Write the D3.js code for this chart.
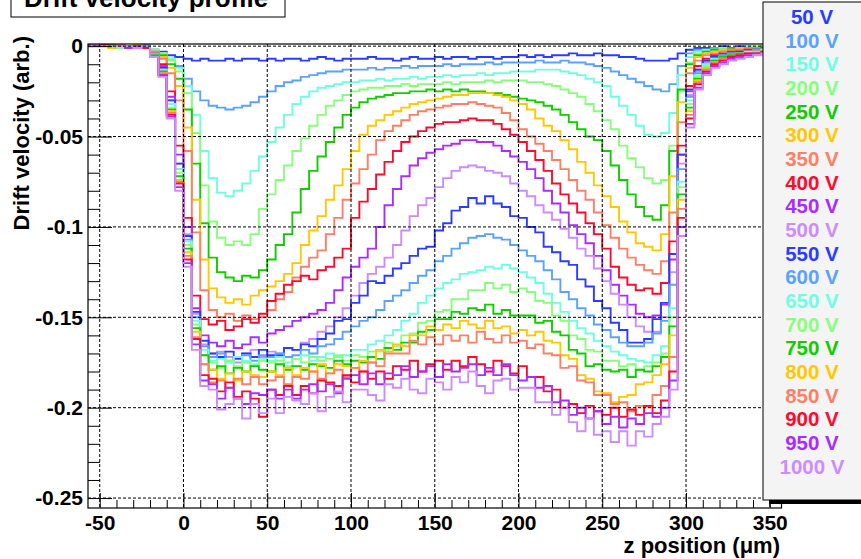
<!DOCTYPE html>
<html><head><meta charset="utf-8">
<script src="https://cdn.jsdelivr.net/npm/d3@7"></script>
<style>
body{margin:0;background:#fff}
svg{display:block}
text{font-family:"Liberation Sans",Arial,Helvetica,sans-serif;font-weight:bold}
</style>
</head><body>
<svg id="c" width="861" height="559"></svg>
<script>
// bin left edges (z, µm) and last right edge
const zEdges = [-60,-55,-50,-45,-40,-35,-30,-25,-20,-15,-10,-5,0,5,10,15,20,25,30,35,40,45,50,55,60,65,70,75,80,85,90,95,100,105,110,115,120,125,130,135,140,145,150,155,160,165,170,175,180,185,190,195,200,205,210,215,220,225,230,235,240,245,250,255,260,265,270,275,280,285,290,295,300,305,310,315,320,325,330,335,340,345,350,355,360];

const s50 = [0.000,0.001,0.000,0.000,-0.001,0.000,0.000,-0.001,
-0.002,-0.003,-0.005,-0.006,-0.007,
-0.008,-0.007,-0.008,-0.008,-0.007,-0.008,-0.007,-0.007,-0.008,-0.007,
-0.008,-0.007,-0.007,-0.008,-0.007,-0.006,-0.007,-0.008,-0.007,-0.007,
-0.007,-0.006,-0.007,-0.007,-0.008,-0.007,-0.006,-0.007,-0.007,-0.006,
-0.007,-0.006,-0.006,-0.007,-0.006,-0.006,-0.007,-0.006,-0.006,-0.005,
-0.006,-0.005,-0.006,-0.005,-0.005,-0.004,-0.005,-0.005,-0.004,-0.005,
-0.005,-0.006,-0.006,-0.007,-0.008,-0.008,-0.008,-0.007,-0.004,
-0.002,-0.001,-0.001,-0.001,0.000,-0.001,0.000,0.000,-0.001,0.000,0.000,0.000];
const s100 = [0.000,0.000,0.001,0.000,-0.001,0.000,0.000,-0.001,
-0.002,-0.004,-0.007,-0.011,-0.018,
-0.025,-0.030,-0.033,-0.034,-0.035,-0.034,-0.033,-0.031,-0.028,-0.025,
-0.022,-0.020,-0.019,-0.017,-0.016,-0.015,-0.014,-0.014,-0.013,-0.013,
-0.013,-0.012,-0.013,-0.012,-0.012,-0.011,-0.012,-0.011,-0.011,-0.011,
-0.010,-0.011,-0.010,-0.010,-0.010,-0.009,-0.010,-0.009,-0.009,-0.009,
-0.009,-0.008,-0.009,-0.009,-0.008,-0.009,-0.009,-0.010,-0.011,-0.012,
-0.014,-0.016,-0.018,-0.020,-0.022,-0.024,-0.025,-0.021,-0.011,
-0.004,-0.002,-0.002,-0.001,-0.001,-0.001,-0.001,0.000,-0.001,0.000,-0.001,0.000];
const s150 = [0.000,0.001,0.000,0.000,0.000,-0.001,0.000,-0.001,
-0.002,-0.004,-0.007,-0.012,-0.022,
-0.038,-0.058,-0.073,-0.081,-0.083,-0.080,-0.076,-0.069,-0.061,-0.053,
-0.045,-0.038,-0.032,-0.028,-0.025,-0.023,-0.022,-0.021,-0.020,-0.020,
-0.019,-0.019,-0.018,-0.019,-0.018,-0.018,-0.017,-0.018,-0.017,-0.017,
-0.016,-0.017,-0.016,-0.016,-0.015,-0.016,-0.015,-0.015,-0.014,-0.014,
-0.014,-0.013,-0.013,-0.013,-0.014,-0.015,-0.016,-0.018,-0.020,-0.022,
-0.028,-0.033,-0.038,-0.044,-0.049,-0.050,-0.048,-0.037,-0.016,
-0.006,-0.003,-0.002,-0.002,-0.001,-0.001,-0.001,0.000,-0.001,0.000,0.000,0.000];
const s200 = [0.000,0.000,0.001,0.000,0.000,0.000,-0.001,0.000,
-0.002,-0.004,-0.008,-0.014,-0.026,
-0.048,-0.077,-0.097,-0.106,-0.110,-0.108,-0.110,-0.104,-0.090,-0.082,
-0.074,-0.066,-0.058,-0.051,-0.044,-0.038,-0.033,-0.030,-0.027,-0.025,
-0.024,-0.023,-0.023,-0.022,-0.022,-0.021,-0.022,-0.021,-0.021,-0.021,
-0.020,-0.021,-0.020,-0.020,-0.020,-0.019,-0.020,-0.019,-0.019,-0.019,
-0.020,-0.020,-0.021,-0.022,-0.024,-0.026,-0.028,-0.032,-0.036,-0.041,
-0.046,-0.055,-0.062,-0.067,-0.073,-0.076,-0.074,-0.055,-0.025,
-0.009,-0.004,-0.003,-0.002,-0.002,-0.001,-0.001,-0.001,0.000,-0.001,0.000,0.000];
const s250 = [0.000,0.001,0.000,0.000,-0.001,0.000,0.000,0.000,
-0.003,-0.005,-0.010,-0.018,-0.035,
-0.065,-0.098,-0.117,-0.125,-0.128,-0.130,-0.127,-0.128,-0.124,-0.118,
-0.110,-0.104,-0.092,-0.079,-0.069,-0.061,-0.053,-0.045,-0.038,-0.034,
-0.031,-0.029,-0.028,-0.027,-0.026,-0.026,-0.025,-0.025,-0.024,-0.025,
-0.024,-0.025,-0.024,-0.025,-0.025,-0.026,-0.026,-0.027,-0.028,-0.029,
-0.030,-0.031,-0.033,-0.035,-0.038,-0.042,-0.046,-0.050,-0.052,-0.058,
-0.066,-0.074,-0.082,-0.089,-0.094,-0.096,-0.088,-0.058,-0.024,
-0.010,-0.005,-0.003,-0.002,-0.002,-0.001,-0.001,-0.001,-0.001,0.000,-0.001,0.000];
const s300 = [0.001,0.000,0.000,-0.001,0.000,0.000,0.000,-0.001,
-0.003,-0.006,-0.012,-0.022,-0.045,
-0.085,-0.118,-0.134,-0.139,-0.142,-0.140,-0.143,-0.138,-0.135,-0.133,
-0.130,-0.126,-0.120,-0.110,-0.102,-0.094,-0.085,-0.077,-0.068,-0.058,
-0.049,-0.044,-0.041,-0.038,-0.036,-0.034,-0.032,-0.031,-0.030,-0.029,
-0.028,-0.027,-0.027,-0.026,-0.026,-0.026,-0.027,-0.028,-0.030,-0.032,
-0.035,-0.040,-0.044,-0.047,-0.052,-0.057,-0.064,-0.070,-0.077,-0.083,
-0.089,-0.097,-0.103,-0.109,-0.111,-0.113,-0.104,-0.072,-0.031,
-0.012,-0.006,-0.004,-0.003,-0.002,-0.002,-0.001,-0.001,-0.001,-0.001,0.000,0.000];
const s350 = [0.000,0.000,0.000,0.001,0.000,-0.001,0.000,0.000,
-0.003,-0.007,-0.015,-0.030,-0.058,
-0.103,-0.135,-0.146,-0.150,-0.148,-0.152,-0.149,-0.151,-0.150,-0.146,
-0.140,-0.136,-0.128,-0.122,-0.117,-0.113,-0.104,-0.095,-0.085,-0.076,
-0.068,-0.060,-0.052,-0.047,-0.044,-0.041,-0.038,-0.036,-0.035,-0.034,
-0.033,-0.032,-0.032,-0.031,-0.032,-0.033,-0.034,-0.037,-0.041,-0.046,
-0.050,-0.054,-0.058,-0.063,-0.068,-0.074,-0.080,-0.085,-0.092,-0.099,
-0.106,-0.112,-0.117,-0.121,-0.124,-0.126,-0.119,-0.092,-0.042,
-0.015,-0.008,-0.005,-0.004,-0.003,-0.002,-0.002,-0.001,-0.001,-0.001,-0.001,0.000];
const s400 = [0.000,0.001,0.000,0.000,0.000,0.000,-0.001,0.000,
-0.004,-0.010,-0.025,-0.055,-0.095,
-0.138,-0.151,-0.154,-0.152,-0.157,-0.155,-0.151,-0.153,-0.148,-0.141,
-0.137,-0.132,-0.130,-0.127,-0.129,-0.124,-0.122,-0.117,-0.112,-0.095,
-0.086,-0.079,-0.071,-0.064,-0.058,-0.053,-0.050,-0.047,-0.045,-0.043,
-0.042,-0.042,-0.041,-0.040,-0.041,-0.041,-0.043,-0.046,-0.049,-0.053,
-0.058,-0.063,-0.069,-0.076,-0.082,-0.087,-0.092,-0.098,-0.104,-0.112,
-0.122,-0.128,-0.132,-0.135,-0.134,-0.137,-0.131,-0.108,-0.055,
-0.022,-0.011,-0.007,-0.005,-0.004,-0.003,-0.003,-0.002,-0.002,-0.001,-0.001,-0.001];
const s450 = [0.000,0.000,0.001,0.000,-0.001,0.000,0.000,0.000,
-0.004,-0.011,-0.028,-0.060,-0.100,
-0.145,-0.160,-0.164,-0.166,-0.163,-0.167,-0.165,-0.161,-0.164,-0.159,
-0.157,-0.155,-0.152,-0.150,-0.148,-0.146,-0.142,-0.135,-0.128,-0.122,
-0.117,-0.112,-0.100,-0.088,-0.079,-0.072,-0.066,-0.062,-0.059,-0.057,
-0.055,-0.054,-0.052,-0.052,-0.053,-0.053,-0.055,-0.058,-0.061,-0.064,
-0.068,-0.073,-0.080,-0.087,-0.092,-0.099,-0.104,-0.109,-0.116,-0.124,
-0.132,-0.138,-0.143,-0.148,-0.150,-0.149,-0.143,-0.118,-0.060,
-0.025,-0.013,-0.008,-0.006,-0.005,-0.004,-0.003,-0.003,-0.002,-0.002,-0.001,-0.001];
const s500 = [0.001,0.000,0.000,0.000,0.000,-0.001,0.000,0.000,
-0.004,-0.012,-0.030,-0.065,-0.104,
-0.148,-0.165,-0.170,-0.169,-0.172,-0.175,-0.170,-0.168,-0.172,-0.169,
-0.170,-0.167,-0.168,-0.164,-0.162,-0.158,-0.155,-0.150,-0.145,-0.138,
-0.131,-0.126,-0.122,-0.117,-0.110,-0.102,-0.094,-0.088,-0.084,-0.078,
-0.073,-0.069,-0.067,-0.066,-0.067,-0.069,-0.070,-0.072,-0.076,-0.080,
-0.083,-0.088,-0.092,-0.096,-0.101,-0.106,-0.112,-0.116,-0.123,-0.130,
-0.137,-0.143,-0.150,-0.155,-0.158,-0.158,-0.150,-0.125,-0.065,
-0.027,-0.014,-0.009,-0.007,-0.005,-0.004,-0.004,-0.003,-0.002,-0.002,-0.002,-0.001];
const s550 = [0.000,0.000,0.000,0.001,0.000,0.000,-0.001,0.000,
-0.005,-0.012,-0.030,-0.065,-0.105,
-0.147,-0.163,-0.170,-0.172,-0.169,-0.173,-0.170,-0.172,-0.168,-0.171,
-0.171,-0.167,-0.168,-0.165,-0.166,-0.162,-0.159,-0.152,-0.151,-0.142,
-0.138,-0.130,-0.131,-0.127,-0.123,-0.120,-0.116,-0.112,-0.111,-0.102,
-0.098,-0.091,-0.089,-0.084,-0.087,-0.083,-0.087,-0.089,-0.094,-0.095,
-0.100,-0.103,-0.111,-0.114,-0.119,-0.121,-0.129,-0.133,-0.141,-0.145,
-0.153,-0.157,-0.164,-0.164,-0.162,-0.151,-0.142,-0.115,-0.060,
-0.024,-0.013,-0.008,-0.006,-0.005,-0.004,-0.003,-0.003,-0.002,-0.002,-0.001,-0.001];
const s600 = [0.000,0.001,0.000,0.000,0.000,-0.001,0.000,0.001,
-0.005,-0.013,-0.032,-0.068,-0.107,
-0.150,-0.166,-0.172,-0.170,-0.174,-0.172,-0.171,-0.174,-0.171,-0.172,
-0.170,-0.172,-0.171,-0.168,-0.170,-0.166,-0.165,-0.162,-0.158,-0.155,
-0.152,-0.150,-0.146,-0.141,-0.138,-0.135,-0.131,-0.127,-0.124,-0.119,
-0.116,-0.112,-0.109,-0.106,-0.105,-0.104,-0.106,-0.107,-0.110,-0.113,
-0.116,-0.119,-0.124,-0.129,-0.136,-0.140,-0.145,-0.149,-0.154,-0.157,
-0.161,-0.164,-0.166,-0.166,-0.164,-0.159,-0.152,-0.132,-0.068,
-0.028,-0.015,-0.010,-0.007,-0.005,-0.004,-0.004,-0.003,-0.002,-0.002,-0.002,-0.001];
const s650 = [0.000,0.000,0.001,0.000,0.000,0.000,0.000,-0.001,
-0.005,-0.013,-0.032,-0.068,-0.108,
-0.152,-0.168,-0.174,-0.173,-0.175,-0.172,-0.174,-0.176,-0.173,-0.174,
-0.172,-0.175,-0.173,-0.171,-0.174,-0.172,-0.170,-0.172,-0.171,-0.168,
-0.168,-0.165,-0.163,-0.160,-0.157,-0.152,-0.148,-0.142,-0.138,-0.134,
-0.131,-0.129,-0.126,-0.125,-0.124,-0.122,-0.123,-0.121,-0.123,-0.125,
-0.128,-0.131,-0.137,-0.142,-0.147,-0.152,-0.156,-0.159,-0.163,-0.166,
-0.169,-0.171,-0.173,-0.174,-0.175,-0.171,-0.166,-0.145,-0.075,
-0.030,-0.016,-0.010,-0.007,-0.006,-0.005,-0.004,-0.003,-0.003,-0.002,-0.002,-0.001];
const s700 = [0.001,0.000,0.000,0.000,-0.001,0.000,0.000,0.000,
-0.005,-0.014,-0.034,-0.070,-0.110,
-0.154,-0.171,-0.175,-0.178,-0.174,-0.177,-0.175,-0.177,-0.174,-0.175,
-0.174,-0.177,-0.173,-0.175,-0.172,-0.174,-0.173,-0.171,-0.174,-0.171,
-0.172,-0.169,-0.169,-0.164,-0.166,-0.160,-0.159,-0.153,-0.152,-0.147,
-0.146,-0.140,-0.140,-0.135,-0.135,-0.131,-0.134,-0.132,-0.136,-0.134,
-0.136,-0.141,-0.142,-0.149,-0.152,-0.160,-0.162,-0.168,-0.169,-0.174,
-0.174,-0.177,-0.176,-0.179,-0.177,-0.175,-0.170,-0.150,-0.078,
-0.032,-0.017,-0.011,-0.008,-0.006,-0.005,-0.004,-0.004,-0.003,-0.002,-0.002,-0.002];
const s750 = [0.000,0.000,0.000,0.001,0.000,0.000,-0.001,0.000,
-0.005,-0.014,-0.035,-0.072,-0.112,
-0.156,-0.171,-0.179,-0.177,-0.181,-0.178,-0.180,-0.177,-0.179,-0.180,
-0.176,-0.179,-0.177,-0.179,-0.176,-0.177,-0.178,-0.174,-0.176,-0.174,
-0.175,-0.172,-0.173,-0.167,-0.168,-0.164,-0.164,-0.158,-0.157,-0.151,
-0.151,-0.147,-0.148,-0.145,-0.146,-0.143,-0.148,-0.146,-0.149,-0.149,
-0.149,-0.153,-0.152,-0.158,-0.160,-0.168,-0.170,-0.177,-0.176,-0.179,
-0.180,-0.179,-0.183,-0.179,-0.180,-0.177,-0.172,-0.155,-0.082,
-0.034,-0.018,-0.012,-0.008,-0.006,-0.005,-0.004,-0.004,-0.003,-0.003,-0.002,-0.002];
const s800 = [0.000,0.001,0.000,0.000,0.000,0.000,0.001,-0.001,
-0.006,-0.015,-0.036,-0.074,-0.114,
-0.158,-0.176,-0.179,-0.184,-0.181,-0.185,-0.180,-0.182,-0.183,-0.180,
-0.182,-0.178,-0.182,-0.178,-0.180,-0.176,-0.181,-0.176,-0.177,-0.178,
-0.174,-0.175,-0.168,-0.169,-0.165,-0.166,-0.160,-0.160,-0.155,-0.157,
-0.154,-0.156,-0.152,-0.154,-0.156,-0.152,-0.156,-0.155,-0.159,-0.157,
-0.160,-0.158,-0.163,-0.164,-0.171,-0.173,-0.182,-0.184,-0.191,-0.192,
-0.197,-0.194,-0.193,-0.187,-0.186,-0.182,-0.176,-0.160,-0.085,
-0.036,-0.019,-0.012,-0.009,-0.007,-0.006,-0.005,-0.004,-0.003,-0.003,-0.002,-0.002];
const s850 = [0.000,0.000,0.000,0.000,0.001,0.000,0.000,0.000,
-0.006,-0.015,-0.037,-0.075,-0.116,
-0.161,-0.176,-0.186,-0.185,-0.189,-0.184,-0.187,-0.183,-0.187,-0.185,
-0.183,-0.187,-0.183,-0.184,-0.180,-0.184,-0.181,-0.179,-0.183,-0.178,
-0.180,-0.175,-0.177,-0.170,-0.170,-0.170,-0.163,-0.165,-0.161,-0.165,
-0.160,-0.163,-0.160,-0.164,-0.158,-0.162,-0.164,-0.160,-0.164,-0.163,
-0.167,-0.165,-0.170,-0.171,-0.178,-0.177,-0.185,-0.186,-0.193,-0.193,
-0.198,-0.197,-0.202,-0.199,-0.199,-0.193,-0.188,-0.172,-0.090,
-0.038,-0.020,-0.013,-0.009,-0.007,-0.006,-0.005,-0.004,-0.004,-0.003,-0.002,-0.002];
const s900 = [0.000,0.000,0.001,0.000,0.000,0.000,0.000,-0.001,
-0.006,-0.016,-0.038,-0.076,-0.118,
-0.162,-0.182,-0.184,-0.191,-0.186,-0.194,-0.191,-0.195,-0.205,-0.190,
-0.193,-0.188,-0.193,-0.188,-0.192,-0.185,-0.186,-0.188,-0.182,-0.186,
-0.180,-0.184,-0.180,-0.184,-0.177,-0.179,-0.174,-0.180,-0.176,-0.174,
-0.179,-0.174,-0.177,-0.172,-0.176,-0.180,-0.174,-0.177,-0.181,-0.177,
-0.183,-0.183,-0.191,-0.190,-0.200,-0.198,-0.203,-0.199,-0.202,-0.204,
-0.200,-0.205,-0.201,-0.204,-0.199,-0.203,-0.196,-0.180,-0.095,
-0.040,-0.021,-0.014,-0.010,-0.008,-0.006,-0.005,-0.004,-0.004,-0.003,-0.003,-0.002];
const s950 = [0.001,0.000,0.000,0.000,0.000,-0.001,0.000,0.000,
-0.006,-0.016,-0.039,-0.078,-0.120,
-0.165,-0.185,-0.187,-0.195,-0.189,-0.195,-0.198,-0.192,-0.193,-0.190,
-0.195,-0.190,-0.195,-0.190,-0.187,-0.191,-0.187,-0.192,-0.184,-0.182,
-0.187,-0.181,-0.187,-0.181,-0.182,-0.177,-0.183,-0.180,-0.177,-0.183,
-0.176,-0.180,-0.178,-0.176,-0.182,-0.178,-0.182,-0.176,-0.182,-0.185,
-0.183,-0.189,-0.188,-0.197,-0.196,-0.204,-0.200,-0.206,-0.202,-0.209,
-0.205,-0.211,-0.206,-0.209,-0.203,-0.205,-0.200,-0.185,-0.100,
-0.043,-0.023,-0.015,-0.011,-0.009,-0.007,-0.006,-0.005,-0.004,-0.004,-0.003,-0.003];
const s1000 = [0.000,0.001,0.000,0.000,0.000,0.000,-0.001,0.000,
-0.006,-0.017,-0.040,-0.080,-0.122,
-0.168,-0.188,-0.190,-0.201,-0.198,-0.195,-0.206,-0.198,-0.203,-0.195,
-0.203,-0.194,-0.196,-0.198,-0.192,-0.202,-0.194,-0.191,-0.197,-0.190,
-0.190,-0.193,-0.196,-0.187,-0.189,-0.184,-0.190,-0.192,-0.184,-0.186,
-0.190,-0.183,-0.186,-0.180,-0.188,-0.192,-0.185,-0.184,-0.190,-0.189,
-0.189,-0.197,-0.197,-0.204,-0.200,-0.208,-0.213,-0.206,-0.215,-0.213,
-0.219,-0.213,-0.221,-0.213,-0.216,-0.209,-0.205,-0.190,-0.105,
-0.045,-0.024,-0.016,-0.012,-0.010,-0.008,-0.007,-0.006,-0.005,-0.004,-0.004,-0.003];

const seriesNames = ["50 V","100 V","150 V","200 V","250 V","300 V","350 V","400 V","450 V","500 V",
  "550 V","600 V","650 V","700 V","750 V","800 V","850 V","900 V","950 V","1000 V"];
const seriesValues = [s50,s100,s150,s200,s250,s300,s350,s400,s450,s500,
  s550,s600,s650,s700,s750,s800,s850,s900,s950,s1000];
const seriesColors = ["#2a3cff","#5aa2ff","#6effe2","#88ff7c","#12cc00","#ffc800","#ff7f66","#ff0a2e","#aa2cff","#cc8cff",
  "#2a3cff","#5aa2ff","#6effe2","#88ff7c","#12cc00","#ffc800","#ff7f66","#ff0a2e","#aa2cff","#cc8cff"];

const xTicks = [-50,0,50,100,150,200,250,300,350];
const xTickLabels = ["-50","0","50","100","150","200","250","300","350"];
const yTicks = [0,-0.05,-0.1,-0.15,-0.2,-0.25];
const yTickLabels = ["0","-0.05","-0.1","-0.15","-0.2","-0.25"];
const titleText = "Drift velocity profile";
const xTitle = "z position (\u03bcm)";
const yTitle = "Drift velocity (arb.)";

const svg = d3.select("#c");
const L = 88, R = 781.5, T = 44, B = 508;
const x = d3.scaleLinear().domain([-57, 357]).range([L, R]);
const y = d3.scaleLinear().domain([-0.2555, 0.0012]).range([B, T]);

svg.append("defs").append("clipPath").attr("id","frameClip")
  .append("rect").attr("x",L).attr("y",T).attr("width",R-L).attr("height",B-T);

svg.append("rect").attr("x",L).attr("y",T).attr("width",R-L).attr("height",B-T).attr("fill","#fff");

// histograms (step outlines)
const line = d3.line().x(d=>x(d[0])).y(d=>y(d[1])).curve(d3.curveStepAfter);
const gData = svg.append("g").attr("clip-path","url(#frameClip)");
seriesValues.forEach((vals,k)=>{
  const pts = vals.map((v,i)=>[zEdges[i], v]);
  pts.push([zEdges[vals.length], vals[vals.length-1]]);
  gData.append("path").attr("d", line(pts)).attr("fill","none")
    .attr("stroke", seriesColors[k]).attr("stroke-width",1.9).attr("stroke-linejoin","miter");
});

// grid
const gGrid = svg.append("g").attr("stroke","#000").attr("stroke-width",1).attr("stroke-dasharray","3,2");
xTicks.forEach(t=>gGrid.append("line").attr("x1",x(t)).attr("x2",x(t)).attr("y1",T).attr("y2",B));
yTicks.forEach(t=>gGrid.append("line").attr("x1",L).attr("x2",R).attr("y1",y(t)).attr("y2",y(t)));

// axes (ticks inside the frame)
const xMinor = d3.range(-50, 351, 10).filter(v=>v%50!==0);
const yMinor = d3.range(0, 26, 1).map(v=>-v/100).filter(v=>Math.round(v*1000)%50!==0);

const gx = svg.append("g").attr("transform",`translate(0,${B})`)
  .call(d3.axisBottom(x).tickValues(xTicks).tickFormat((d,i)=>xTickLabels[i]).tickSizeInner(-15).tickSizeOuter(0).tickPadding(7));
gx.select(".domain").remove();
gx.selectAll("line").attr("stroke","#000");
gx.selectAll("text").attr("font-size",21).attr("fill","#000").attr("font-family",null);
const gxm = svg.append("g").attr("transform",`translate(0,${B})`)
  .call(d3.axisBottom(x).tickValues(xMinor).tickFormat("").tickSizeInner(-8).tickSizeOuter(0));
gxm.select(".domain").remove();
gxm.selectAll("line").attr("stroke","#000");

const gy = svg.append("g").attr("transform",`translate(${L},0)`)
  .call(d3.axisLeft(y).tickValues(yTicks).tickFormat((d,i)=>yTickLabels[i]).tickSizeInner(-24).tickSizeOuter(0).tickPadding(5));
gy.select(".domain").remove();
gy.selectAll("line").attr("stroke","#000");
gy.selectAll("text").attr("font-size",21).attr("fill","#000").attr("font-family",null);
const gym = svg.append("g").attr("transform",`translate(${L},0)`)
  .call(d3.axisLeft(y).tickValues(yMinor).tickFormat("").tickSizeInner(-12).tickSizeOuter(0));
gym.select(".domain").remove();
gym.selectAll("line").attr("stroke","#000");

// frame
svg.append("rect").attr("x",L).attr("y",T).attr("width",R-L).attr("height",B-T)
  .attr("fill","none").attr("stroke","#000").attr("stroke-width",1.2);

// axis titles
svg.append("text").attr("x",780).attr("y",553).attr("text-anchor","end")
  .attr("font-size",22).text(xTitle);
svg.append("text").attr("transform","translate(29,36) rotate(-90)").attr("text-anchor","end")
  .attr("font-size",22).text(yTitle);

// title box
svg.append("rect").attr("x",11).attr("y",-20).attr("width",274).attr("height",37)
  .attr("fill","#fff").attr("stroke","#000").attr("stroke-width",1);
svg.append("text").attr("x",24).attr("y",7).attr("font-size",26).text(titleText);

// legend
svg.append("rect").attr("x",769).attr("y",8).attr("width",120).attr("height",496).attr("fill","#000");
svg.append("rect").attr("x",763).attr("y",2).attr("width",120).attr("height",498)
  .attr("fill","#f4f4f4").attr("stroke","#000").attr("stroke-width",1);
const gLeg = svg.append("g");
seriesNames.forEach((n,i)=>{
  gLeg.append("text").attr("x",812).attr("y",17+i*23.65).attr("dy","0.35em")
    .attr("text-anchor","middle").attr("font-size",20.5).attr("fill",seriesColors[i]).text(n);
});
</script>
</body></html>
